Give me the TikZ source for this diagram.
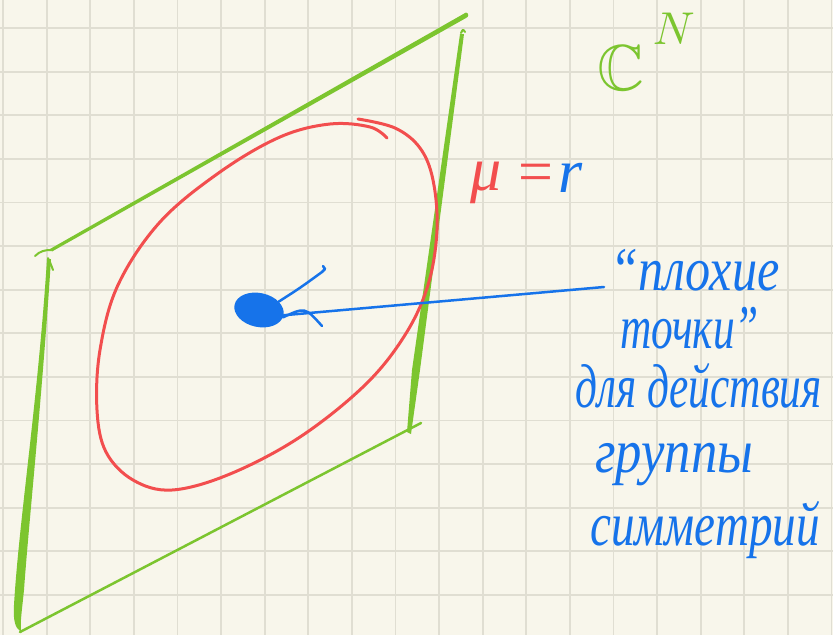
\documentclass[tikz,border=0pt]{standalone}
\usepackage{amsmath,amssymb}
\usepackage{fontspec}
\usepackage{xcolor}
\usepackage{tikz}
\usetikzlibrary{shapes.geometric}
\newfontfamily\handfont{Liberation Serif}
\definecolor{paper}{HTML}{F8F6EB}
\definecolor{gridline}{HTML}{E0DED2}
\definecolor{penGreen}{HTML}{7CC52F}
\definecolor{penRed}{HTML}{F24E4E}
\definecolor{penBlue}{HTML}{1673EA}
\tikzset{
  hand/.style={font=\handfont\itshape\fontsize{62}{66}\selectfont, text=penBlue, inner sep=0pt, anchor=base west},
  pen/.style={line width=#1, line cap=round, line join=round},
}

\begin{document}
\begin{tikzpicture}[x=1pt, y=-1pt]
            \useasboundingbox (0,0) rectangle (833,635);
            \clip (0,0) rectangle (833,635);
            \fill[paper] (0,0) rectangle (833,635);
            % squared paper
            \foreach \k in {0,...,19}
              \draw[gridline, line width=1.8pt] ({3+43.6*\k},0) -- ({3+43.6*\k},635);
            \foreach \k in {0,...,14}
              \draw[gridline, line width=1.8pt] (0,{-15.6+43.6*\k}) -- (833,{-15.6+43.6*\k});
            % the domain: a slanted square
            \draw[penGreen, pen=2pt] (35,256) .. controls (40,251) and (45,250) .. (51,250);
            \fill[penGreen] (50,249) -- (466,12.5) .. controls (469,13) and (469,17) .. (466,18) -- (52,251.5) -- cycle;
            \draw[penGreen, pen=2pt] (53,270) .. controls (50,262) .. (48,258);
            \fill[penGreen] (47,259) -- (51,259) .. controls (42,400) and (29,520) .. (24,590)
              .. controls (22,610) and (20,622) .. (21,632) .. controls (15,628) and (13,620) .. (14,605)
              .. controls (19,520) and (38,400) .. cycle;
            \draw[penGreen, pen=2.5pt] (20,632) -- (421,423);
            \draw[penGreen, pen=2pt] (465,32) .. controls (463,29) .. (461,33);
            \fill[penGreen] (460,34) -- (464,34) -- (420,370) -- (411,434) -- (407,432) -- (412,370) -- cycle;
            % level set mu = r
            \draw[penRed, pen=3pt] plot[smooth, tension=0.6] coordinates {
              (358,119) (395,128) (420,148) (433,180) (437,230) (428,285) (405,335) (365,385)
              (300,437) (230,474) (172,490) (133,480) (106,452) (97,410) (100,350) (118,285)
              (160,222) (220,172) (280,137) (330,124) (370,127) (387,138)};
            % the bad points
            \node[ellipse, fill=penBlue, minimum width=50pt, minimum height=34pt, inner sep=0pt, rotate=-12] (spot) at (259,310) {};
            \draw[penBlue, pen=2.5pt] (spot.35) .. controls (300,288) .. (322,272) -- (325,269) -- (323,266);
            \draw[penBlue, pen=2.5pt] (spot.-5) .. controls (305,307) .. (322,326);
            \coordinate (tip) at (604,287);
            \draw[penBlue, pen=2.5pt] (spot.east) -- (tip);
            \node[hand, xscale=0.81] (bad) at (610,290) {“плохие};
            \node[hand, xscale=0.7] (pts) at (620,348) {точки”};
            \node[hand, xscale=0.7] (for) at (575,407) {для действия};
            \node[hand, xscale=0.85] (grp) at (595,472) {группы};
            \node[hand, xscale=0.76] (sym) at (590,545) {симметрий};
            % labels
            \node[hand, text=penRed] (mu) at (470,190) {μ};
            \node[hand, text=penRed] (eq) at (514,192) {=};
            \node[hand] (r) at (558,192) {r};
            \node[text=penGreen, scale=6.5, anchor=base west, inner sep=0pt] (space) at (596,90) {$\mathbb{C}$};
            \node[text=penGreen, scale=4.6, anchor=base west, inner sep=0pt] (dim) at (652,44) {$N$};
        \end{tikzpicture}
\end{document}
